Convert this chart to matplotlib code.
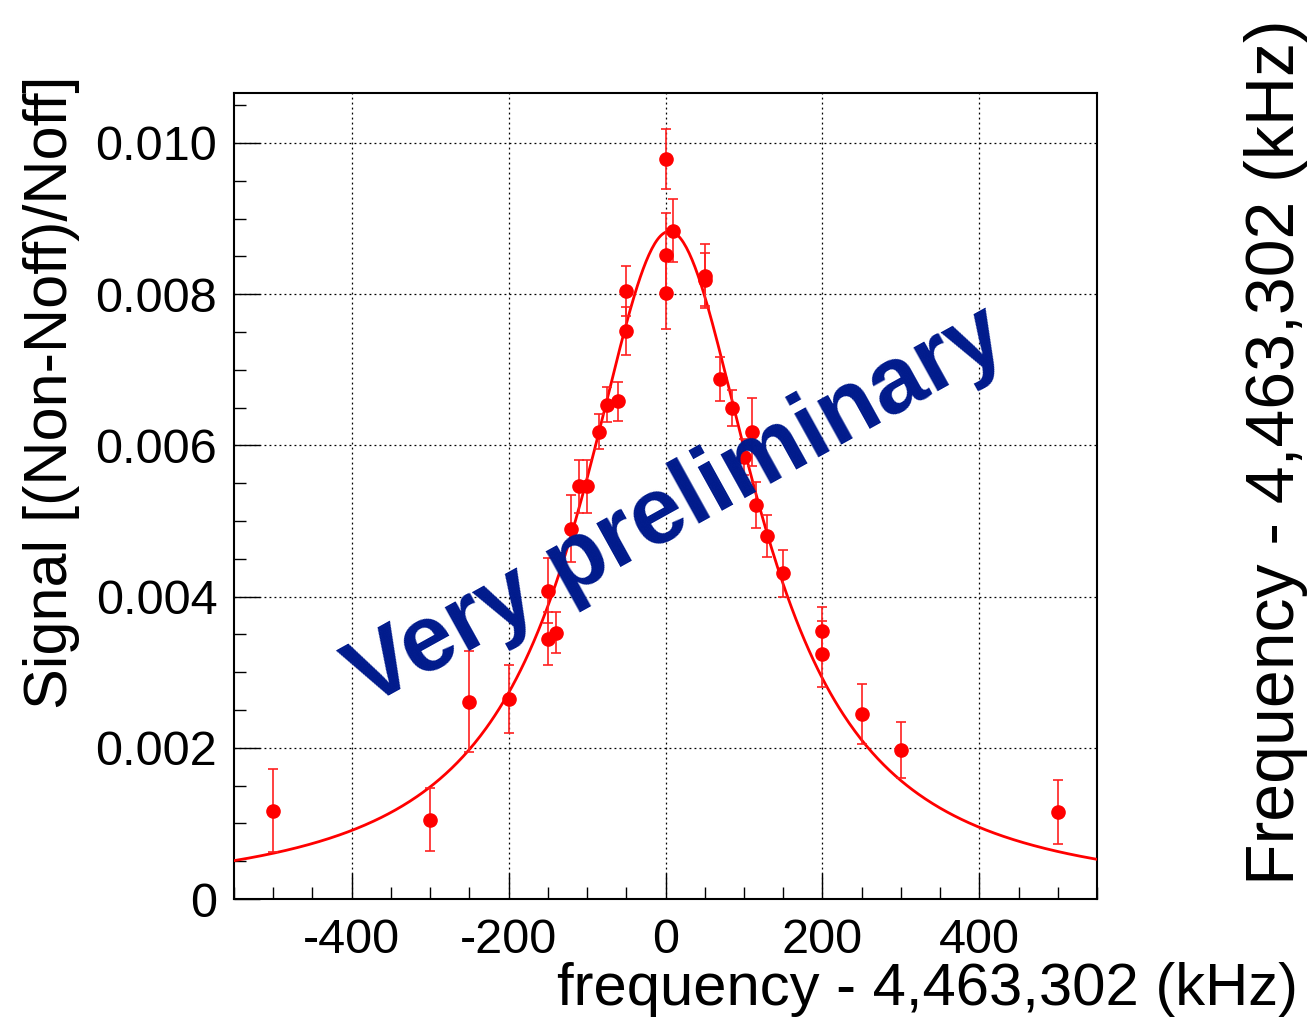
import numpy as np
import matplotlib
matplotlib.use('Agg')
import matplotlib.pyplot as plt
from matplotlib.ticker import FixedLocator, MultipleLocator, FixedFormatter

# data points (frequency offset in kHz, signal, error)
freq = [-500, -300, -250, -200, -150, -150, -140, -120, -110, -100,
        -85, -75, -60, -50, -50, 0, 0, 0, 10, 50, 50,
        70, 85, 100, 110, 115, 130, 150, 200, 200, 250, 300, 500]
signal = [0.00117, 0.00105, 0.00261, 0.00265, 0.00408, 0.00344, 0.00352, 0.00490, 0.00546, 0.00546,
          0.00618, 0.00654, 0.00658, 0.00804, 0.00751, 0.00979, 0.00852, 0.00802, 0.00884, 0.00824, 0.00819,
          0.00688, 0.00649, 0.00585, 0.00618, 0.00521, 0.00480, 0.00431, 0.00355, 0.00324, 0.00245, 0.00197, 0.00115]
error = [0.00055, 0.00042, 0.00067, 0.00045, 0.00043, 0.00035, 0.00027, 0.00044, 0.00035, 0.00035,
         0.00023, 0.00023, 0.00026, 0.00033, 0.00032, 0.00040, 0.00055, 0.00048, 0.00042, 0.00042, 0.00035,
         0.00029, 0.00024, 0.00024, 0.00045, 0.00030, 0.00028, 0.00031, 0.00031, 0.00044, 0.00040, 0.00037, 0.00042]

# Lorentzian fit parameters
fit_amp = 0.00883
fit_center = 5.0
fit_hwhm = 137.0

# axis ticks and labels
xticks = [-400, -200, 0, 200, 400]
xtick_labels = ['-400', '-200', '0', '200', '400']
yticks = [0, 0.002, 0.004, 0.006, 0.008, 0.010]
ytick_labels = ['0', '0.002', '0.004', '0.006', '0.008', '0.010']

plt.rcParams['font.family'] = ['Liberation Sans', 'DejaVu Sans']
plt.rcParams['axes.unicode_minus'] = False

fig = plt.figure(figsize=(13.12, 10.21), dpi=100)
ax = fig.add_axes([234 / 1312, 1 - 899 / 1021, (1097 - 234) / 1312, (899 - 93) / 1021])

# fit curve
xs = np.linspace(-550, 550, 600)
ax.plot(xs, fit_amp / (1 + ((xs - fit_center) / fit_hwhm) ** 2), color='#ff0000', lw=2.0, zorder=3)

# data with error bars
ax.errorbar(freq, signal, yerr=error, fmt='o', color='#ff0000', ms=9.5,
            ecolor='#ff2020', elinewidth=1.2, capsize=3.5, capthick=1.2, zorder=4)

ax.set_xlim(-550, 550)
ax.set_ylim(0, 0.01066)

# ticks: inward, left and bottom only
ax.xaxis.set_major_locator(FixedLocator(xticks))
ax.xaxis.set_major_formatter(FixedFormatter(xtick_labels))
ax.xaxis.set_minor_locator(MultipleLocator(50))
ax.yaxis.set_major_locator(FixedLocator(yticks))
ax.yaxis.set_major_formatter(FixedFormatter(ytick_labels))
ax.yaxis.set_minor_locator(MultipleLocator(0.0005))
ax.tick_params(which='both', direction='in', top=False, right=False, width=1.0, labelsize=35)
ax.tick_params(which='major', length=18.5)
ax.tick_params(which='minor', length=8.5)
ax.tick_params(axis='x', pad=14)
ax.tick_params(axis='y', pad=12)

# dotted grid
ax.grid(True, which='major', color='black', linestyle=(0, (1.5, 2.5)), linewidth=0.9)
ax.set_axisbelow(True)
for sp in ax.spines.values():
    sp.set_linewidth(1.5)

# axis titles
fig.text(52 / 1312, 1 - 392 / 1021, 'Signal [(Non-Noff)/Noff]', rotation=90,
         ha='center', va='center', fontsize=44)
fig.text(1298 / 1312, 1 - 1005 / 1021, 'frequency - 4,463,302 (kHz)',
         ha='right', va='baseline', fontsize=43)
fig.text(1276 / 1312, 1 - 452 / 1021, 'Frequency - 4,463,302 (kHz)', rotation=90,
         ha='center', va='center', fontsize=49)

# watermark
fig.text(677 / 1312, 1 - 508 / 1021, 'Very preliminary', rotation=29,
         ha='center', va='center', fontsize=68, fontweight='bold', color='#001a8c', zorder=10)

fig.savefig('out.png', dpi=100)
